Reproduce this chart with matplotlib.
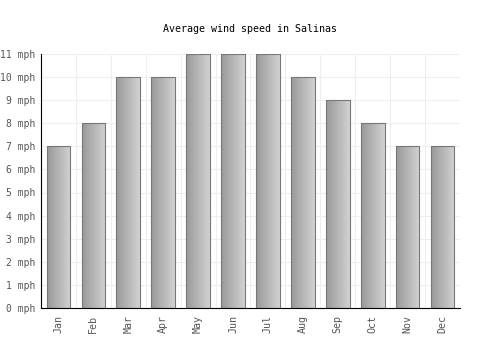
import numpy as np
import matplotlib.pyplot as plt

months = ['Jan', 'Feb', 'Mar', 'Apr', 'May', 'Jun', 'Jul', 'Aug', 'Sep', 'Oct', 'Nov', 'Dec']
speed = [7, 8, 10, 10, 11, 11, 11, 10, 9, 8, 7, 7]
yticks = list(range(0, 12))

plt.rcParams['font.family'] = 'DejaVu Sans Mono'
fig = plt.figure(figsize=(5, 3.5), dpi=100)
ax = fig.add_axes([0.082, 0.12, 0.838, 0.726])

x = np.arange(len(months))
bars = ax.bar(x, speed, width=0.68, color='none', edgecolor='#777777', linewidth=0.8, zorder=3)

# horizontal gradient inside each bar
grad = np.linspace(0, 1, 64).reshape(1, -1)
cmap = plt.matplotlib.colors.LinearSegmentedColormap.from_list('g', ['#999999', '#d2d2d2'])
for b in bars:
    im = ax.imshow(grad, cmap=cmap,
                   extent=[b.get_x(), b.get_x() + b.get_width(), 0, b.get_height()],
                   aspect='auto', zorder=2)
    im.set_clip_path(b)

ax.set_xlim(-0.5, len(months) - 0.5)
ax.set_ylim(0, 11)
ax.set_xticks(x)
ax.set_xticklabels(months, rotation=90, color='#555555', fontsize=7.2)
ax.set_yticks(yticks)
ax.set_yticklabels([f'{v} mph' for v in yticks], color='#555555', fontsize=7)
ax.set_xticks(np.arange(-0.5, len(months), 1), minor=True)
ax.grid(False)
ax.grid(True, which='minor', axis='x', color='#eeeeee', linewidth=0.8)
ax.grid(True, which='major', axis='y', color='#eeeeee', linewidth=0.8)
ax.set_axisbelow(True)
ax.tick_params(which='both', length=0)
ax.tick_params(axis='y', pad=4)
ax.tick_params(axis='x', pad=5)
for s in ['top', 'right']:
    ax.spines[s].set_visible(False)
ax.spines['left'].set_color('black')
ax.spines['bottom'].set_color('black')

fig.suptitle('Average wind speed in Salinas', fontsize=7.2, y=0.93)
fig.savefig('out.png')
